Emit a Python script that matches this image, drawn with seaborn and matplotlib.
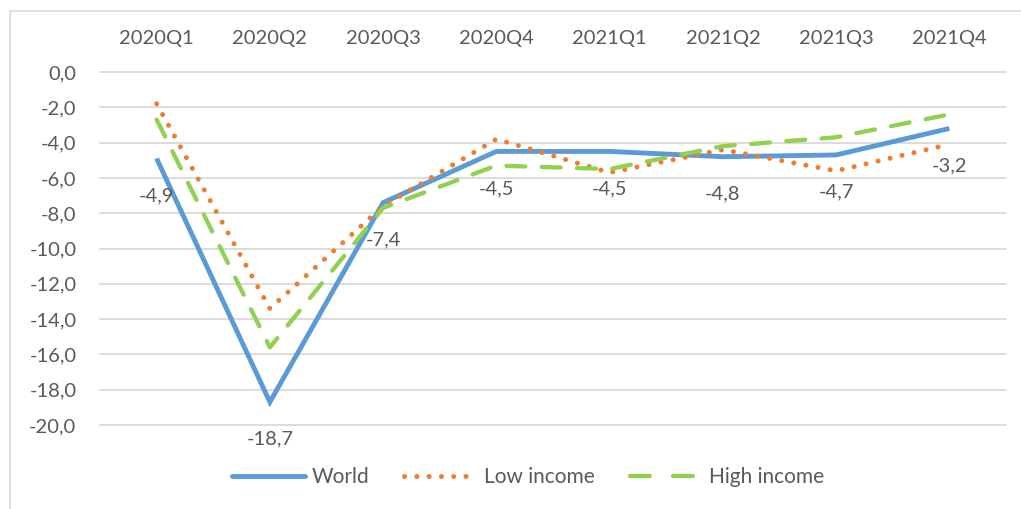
import matplotlib
matplotlib.use("Agg")
import matplotlib.pyplot as plt
from matplotlib.lines import Line2D
import seaborn as sns
import pandas as pd

quarters = ["2020Q1", "2020Q2", "2020Q3", "2020Q4", "2021Q1", "2021Q2", "2021Q3", "2021Q4"]
world = [-4.9, -18.7, -7.4, -4.5, -4.5, -4.8, -4.7, -3.2]
low_income = [-1.8, -13.4, -7.6, -3.8, -5.7, -4.4, -5.6, -4.1]
high_income = [-2.7, -15.6, -7.7, -5.3, -5.5, -4.2, -3.7, -2.4]
y_ticks = [0, -2, -4, -6, -8, -10, -12, -14, -16, -18, -20]

sns.set_style("white")
plt.rcParams["font.family"] = ["Lato", "DejaVu Sans"]
TXT = "#595959"
GRID = "#D9D9D9"
FS = 14.5

W, H = 1021, 509
fig = plt.figure(figsize=(W / 100, H / 100), dpi=100)
ax = fig.add_axes([100 / W, 1 - 425 / H, (1006 - 100) / W, (425 - 72) / H])

pos = list(range(len(quarters)))
df = pd.DataFrame({"pos": pos, "World": world, "Low income": low_income, "High income": high_income})

sns.lineplot(data=df, x="pos", y="World", ax=ax, color="#5B9BD5", lw=3.5, legend=False)
sns.lineplot(data=df, x="pos", y="Low income", ax=ax, color="#ED7D31", lw=3.6, legend=False)
sns.lineplot(data=df, x="pos", y="High income", ax=ax, color="#92D050", lw=3.1, legend=False)

DOT = (0, (0.01, 2.45))
DASH = (0, (4.4, 3.8))
DASH_LEG = (0, (4.6, 5.4))
lines = ax.get_lines()
lines[0].set_solid_capstyle("butt")
lines[0].set_solid_joinstyle("miter")
lines[1].set_linestyle(DOT)
lines[1].set_dash_capstyle("round")
lines[2].set_linestyle(DASH)
lines[2].set_dash_capstyle("round")
lines[0].set_zorder(3)
lines[1].set_zorder(4)
lines[2].set_zorder(5)

ax.set_xlim(-0.5, len(quarters) - 0.5)
ax.set_ylim(-20, 0)
ax.set_yticks(y_ticks)
ax.set_yticklabels([f"{v:.1f}".replace(".", ",") for v in y_ticks])
ax.set_xticks(pos)
ax.set_xticklabels(quarters)
ax.xaxis.tick_top()
ax.tick_params(axis="x", length=0, pad=18, labelsize=FS, colors=TXT)
ax.tick_params(axis="y", length=0, pad=17, labelsize=FS, colors=TXT)
ax.set_xlabel("")
ax.set_ylabel("")
for s in ax.spines.values():
    s.set_visible(False)
ax.yaxis.grid(True, color=GRID, lw=1.3)
ax.xaxis.grid(False)
ax.set_axisbelow(True)
for gl in ax.get_ygridlines():
    gl.set_clip_on(False)

for x, v in zip(pos, world):
    ax.annotate(f"{v:.1f}".replace(".", ","), (x, v), xytext=(0, -37),
                textcoords="offset pixels", ha="center", va="center",
                fontsize=FS, color=TXT, zorder=6)

handles = []
for l, ls in zip(lines, ["-", DOT, DASH_LEG]):
    h = Line2D([], [], color=l.get_color(), lw=l.get_linewidth(), linestyle=ls)
    h.set_dash_capstyle("round")
    handles.append(h)
leg = fig.legend(handles, ["World", "Low income", "High income"], loc="center",
                 bbox_to_anchor=(528 / W, 1 - 477 / H), ncol=3, frameon=False,
                 fontsize=15, handlelength=3.5, handletextpad=0.3, columnspacing=1.7)
for t in leg.get_texts():
    t.set_color(TXT)

fig.add_artist(Line2D([10 / W, 10 / W], [0, 1 - 11 / H], color=GRID, lw=1.2, transform=fig.transFigure))
fig.add_artist(Line2D([10 / W, 1], [1 - 11 / H, 1 - 11 / H], color=GRID, lw=1.2, transform=fig.transFigure))

fig.savefig("out.png", dpi=100)
